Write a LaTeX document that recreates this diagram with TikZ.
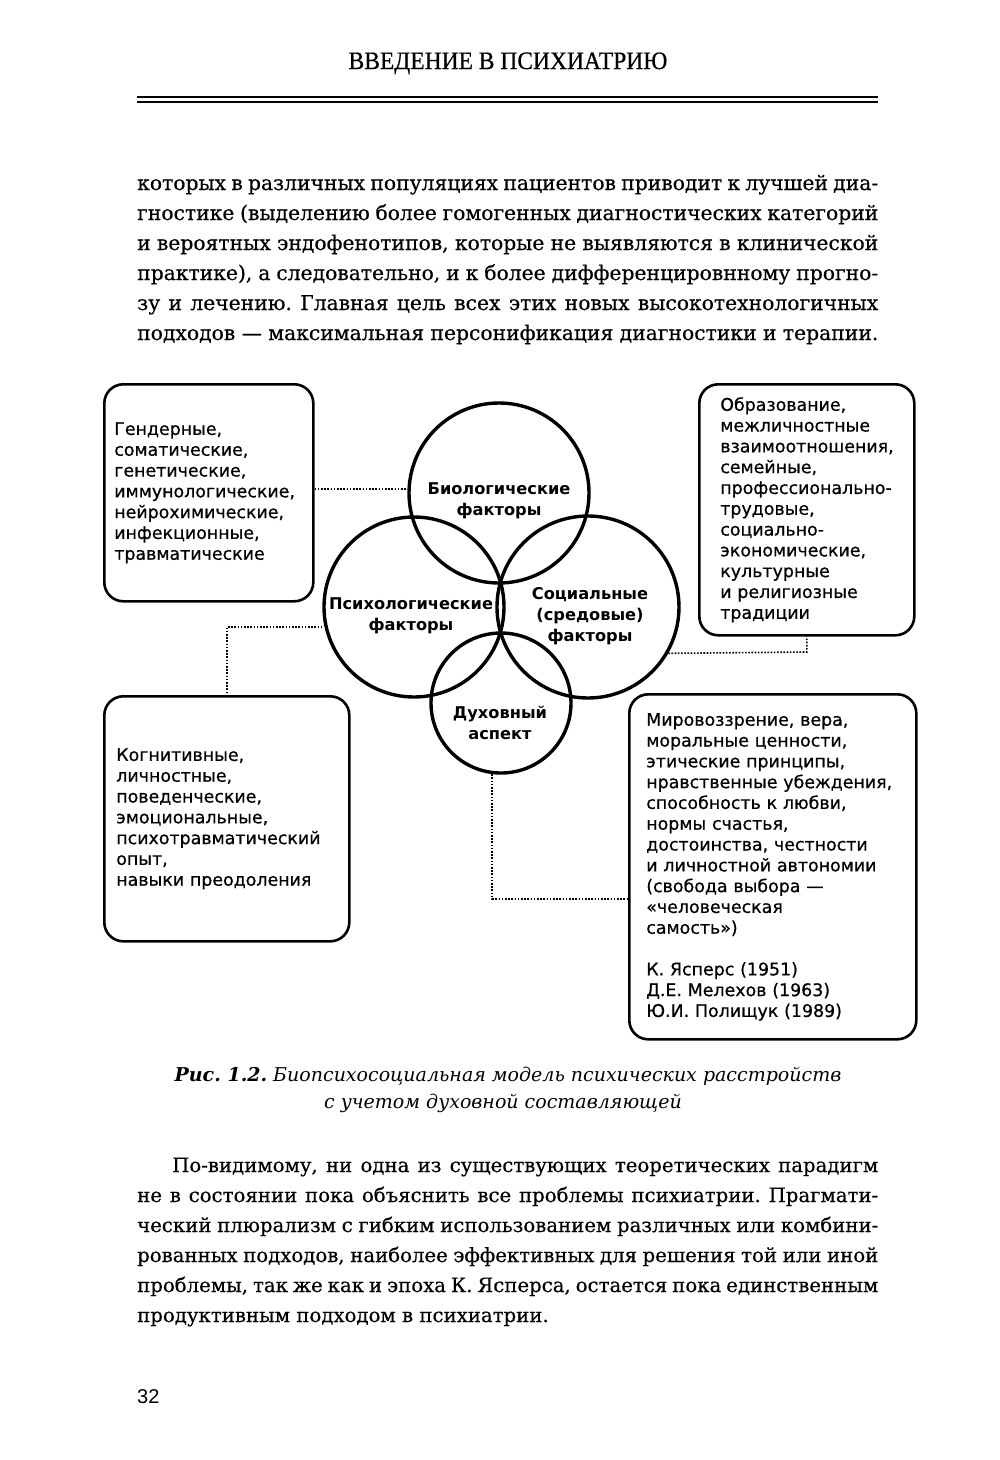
\documentclass[tikz,border=0pt]{standalone}
\usepackage{fontspec}
\setmainfont{DejaVu Serif}
\setsansfont{DejaVu Sans}
\newfontfamily\hdrfont{Liberation Serif}[FakeBold=0.6]
\newfontfamily\pnfont{Liberation Sans}
\newfontfamily\boxfont{DejaVu Sans}[FakeBold=0.6]
\newfontfamily\bodyfont{DejaVu Serif}[FakeBold=0.4]
\pgfdeclareradialshading{ringshade}{\pgfpoint{0bp}{0bp}}{color(0bp)=(white); color(36bp)=(white); color(50bp)=(black!14)}
\hbadness=10000 \hfuzz=50pt
\frenchspacing
\begin{document}
\begin{tikzpicture}[x=1pt,y=-1pt,
 bodyline/.style={anchor=base west, inner sep=0pt, font=\bodyfont\fontsize{19.7}{30}\selectfont},
 topline/.style={anchor=base west, inner sep=0pt, font=\bodyfont\fontsize{20.3}{30}\selectfont},
 infobox/.style={draw, line width=2.6pt, rounded corners=19pt, anchor=north west, align=left,
   font=\boxfont\fontsize{17.4}{20.8}\selectfont, inner ysep=0pt},
 venn/.style={circle, draw, inner sep=0pt, line width=3.4pt},
 vlabel/.style={align=center, inner sep=0pt, font=\sffamily\bfseries\fontsize{16.2}{20.8}\selectfont},
 dotline/.style={line width=1.6pt, dash pattern=on 1.6pt off 1.6pt}]
\fill[white] (0,0) rectangle (1000,1460);
\useasboundingbox (0,0) rectangle (1000,1460);

% header
\node[anchor=base, inner sep=0pt, font=\hdrfont\fontsize{25}{30}\selectfont] (hdr) at (508,69)
  {\scalebox{0.94}[1]{ВВЕДЕНИЕ В ПСИХИАТРИЮ}};
\draw[line width=2pt] (137,97) -- (878,97);
\draw[line width=1.4pt] (137,102) -- (878,102);

% top paragraph
\node[topline] (p1) at (137,190) {\makebox[741pt][s]{которых в различных популяциях пациентов приводит к лучшей диа-}};
\node[topline] (p2) at (137,220) {\makebox[741pt][s]{гностике (выделению более гомогенных диагностических категорий}};
\node[topline] (p3) at (137,250) {\makebox[741pt][s]{и вероятных эндофенотипов, которые не выявляются в клинической}};
\node[topline] (p4) at (137,280) {\makebox[741pt][s]{практике), а следовательно, и к более дифференцировнному прогно-}};
\node[topline] (p5) at (137,310) {\makebox[741pt][s]{зу и лечению. Главная цель всех этих новых высокотехнологичных}};
\node[topline] (p6) at (137,340) {\makebox[741pt][s]{подходов — максимальная персонификация диагностики и терапии.}};

% circle shading
\shade[shading=ringshade] (499,493) circle (90);
\shade[shading=ringshade] (414,607) circle (90);
\shade[shading=ringshade] (588,607) circle (91);
\shade[shading=ringshade] (501,703) circle (70);

% circles
\node[venn, minimum size=180pt] (bio) at (499,493) {};
\node[venn, minimum size=180pt] (psy) at (414,607) {};
\node[venn, minimum size=182pt] (soc) at (588,607) {};
\node[venn, minimum size=140pt] (spi) at (501,703) {};

\node[vlabel] (biol) at (499,501) {Биологические\\факторы};
\node[vlabel] (psyl) at (411,616) {Психологические\\факторы};
\node[vlabel] (socl) at (590,616) {Социальные\\(средовые)\\факторы};
\node[vlabel] (spil) at (500,723) {Духовный\\аспект};

% boxes
\node[infobox, inner xsep=10pt, text width=189pt, minimum height=217pt] (tl) at (103,383)
 {Гендерные,\\соматические,\\генетические,\\иммунологические,\\нейрохимические,\\инфекционные,\\травматические};
\node[infobox, inner xsep=21pt, text width=173pt, minimum height=251pt] (tr) at (698,383)
 {Образование,\\межличностные\\взаимоотношения,\\семейные,\\профессионально-\\трудовые,\\социально-\\экономические,\\культурные\\и религиозные\\традиции};
\node[infobox, inner xsep=12pt, text width=221pt, minimum height=245pt] (bl) at (103,695)
 {Когнитивные,\\личностные,\\поведенческие,\\эмоциональные,\\психотравматический\\опыт,\\навыки преодоления};
\node[infobox, inner xsep=17pt, text width=253pt, minimum height=345pt] (br) at (628,693)
 {Мировоззрение, вера,\\моральные ценности,\\этические принципы,\\нравственные убеждения,\\способность к любви,\\нормы счастья,\\достоинства, честности\\и личностной автономии\\(свобода выбора —\\«человеческая\\самость»)\\[20.8pt]К. Ясперс (1951)\\Д.Е. Мелехов (1963)\\Ю.И. Полищук (1989)};

% connectors
\coordinate (c1) at (360,489);
\coordinate (c2) at (225,627);
\coordinate (c3) at (806,652);
\coordinate (c4) at (492,899);
\draw[dotline] (tl.east |- c1) -- (bio.west |- c1);
\draw[dotline] (psy.west |- c2) -- (bl.north |- c2) -- (bl.north);
\draw[dotline] (soc.-30) -- (tr.south |- c3) -- (tr.south);
\draw[dotline] (spi.-97) -- (spi.-97 |- c4) -- (br.west |- c4);

% caption
\node[anchor=base, inner sep=0pt, font=\itshape\fontsize{19}{27}\selectfont] (cap1) at (508,1081)
 {\textbf{Рис. 1.2.} Биопсихосоциальная модель психических расстройств};
\node[anchor=base, inner sep=0pt, font=\itshape\fontsize{19}{27}\selectfont] (cap2) at (503,1108)
 {с учетом духовной составляющей};

% bottom paragraph
\node[bodyline] (q1) at (172,1172) {\makebox[706pt][s]{По-видимому, ни одна из существующих теоретических парадигм}};
\node[bodyline] (q2) at (137,1202) {\makebox[741pt][s]{не в состоянии пока объяснить все проблемы психиатрии. Прагмати-}};
\node[bodyline] (q3) at (137,1232) {\makebox[741pt][s]{ческий плюрализм с гибким использованием различных или комбини-}};
\node[bodyline] (q4) at (137,1262) {\makebox[741pt][s]{рованных подходов, наиболее эффективных для решения той или иной}};
\node[bodyline] (q5) at (137,1292) {\makebox[741pt][s]{проблемы, так же как и эпоха К. Ясперса, остается пока единственным}};
\node[bodyline] (q6) at (137,1322) {продуктивным подходом в психиатрии.};

\node[anchor=base west, inner sep=0pt, font=\pnfont\fontsize{20}{24}\selectfont] (pn) at (137,1403) {32};
\end{tikzpicture}
\end{document}
